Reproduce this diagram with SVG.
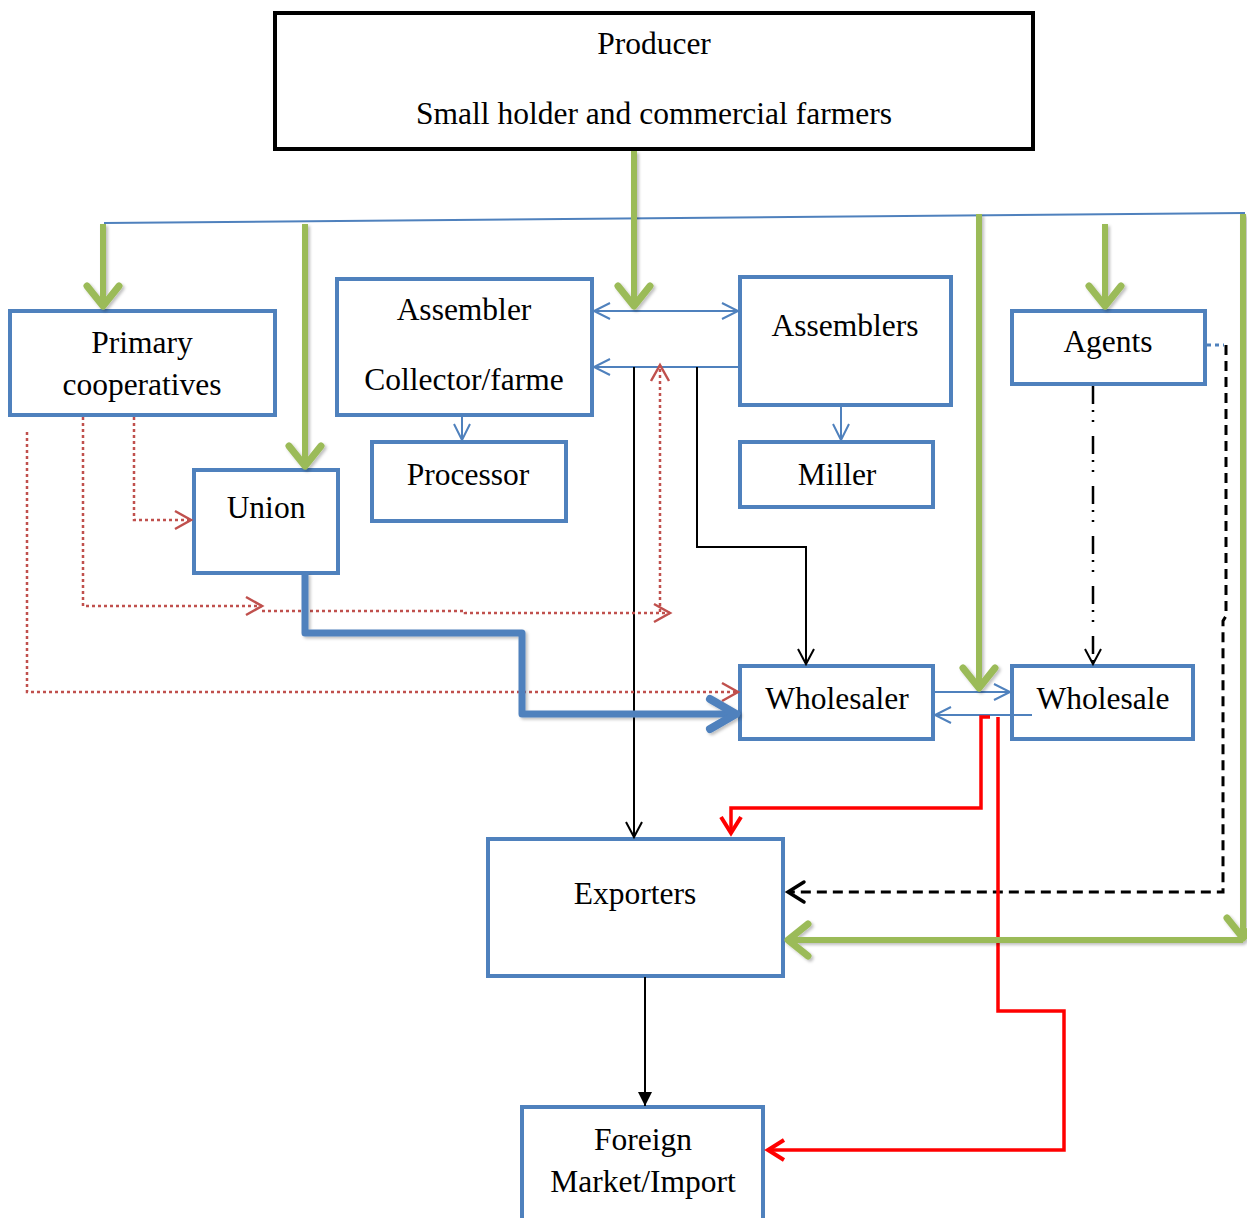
<svg xmlns="http://www.w3.org/2000/svg" width="1247" height="1218" viewBox="0 0 1247 1218">
<style>
.box{fill:#fff;stroke:#4f81bd;stroke-width:4}
.t{font-family:"Liberation Serif","Times New Roman",serif;font-size:31.5px;fill:#000;text-anchor:middle}
.bl{fill:none;stroke:#4f81bd;stroke-width:2}
.gr{fill:none;stroke:#9bbb59;stroke-width:6}
.rd{fill:none;stroke:#c0504d;stroke-width:2.5;stroke-dasharray:3 3}
.k{fill:none;stroke:#000;stroke-width:2}
.red{fill:none;stroke:#ff0000;stroke-width:3.5}
</style>
<defs>
<filter id="sh" x="-20%" y="-20%" width="140%" height="140%"><feDropShadow dx="2" dy="2" stdDeviation="1.5" flood-color="#000" flood-opacity="0.25"/></filter>
<marker id="mb" markerUnits="userSpaceOnUse" markerWidth="1" markerHeight="1" overflow="visible" orient="auto-start-reverse" refX="0" refY="0"><path d="M-16,-8 L0,0 L-16,8" fill="none" stroke="#4f81bd" stroke-width="2"/></marker>
<marker id="mk" markerUnits="userSpaceOnUse" markerWidth="1" markerHeight="1" overflow="visible" orient="auto" refX="0" refY="0"><path d="M-15,-8 L0,0 L-15,8" fill="none" stroke="#000" stroke-width="2"/></marker>
<marker id="mkf" markerUnits="userSpaceOnUse" markerWidth="1" markerHeight="1" overflow="visible" orient="auto" refX="0" refY="0"><path d="M-14,-7 L0,0 L-14,7 Z" fill="#000"/></marker>
<marker id="mkd" markerUnits="userSpaceOnUse" markerWidth="1" markerHeight="1" overflow="visible" orient="auto" refX="0" refY="0"><path d="M-16,-10 L0,0 L-16,10" fill="none" stroke="#000" stroke-width="3.5" stroke-linecap="round"/></marker>
<marker id="mr" markerUnits="userSpaceOnUse" markerWidth="1" markerHeight="1" overflow="visible" orient="auto" refX="0" refY="0"><path d="M-16,-9 L0,0 L-16,9" fill="none" stroke="#c0504d" stroke-width="2.5"/></marker>
<marker id="mrr" markerUnits="userSpaceOnUse" markerWidth="1" markerHeight="1" overflow="visible" orient="auto" refX="0" refY="0"><path d="M-16,-10 L0,0 L-16,10" fill="none" stroke="#ff0000" stroke-width="4"/></marker>
<marker id="mg" markerUnits="userSpaceOnUse" markerWidth="1" markerHeight="1" overflow="visible" orient="auto" refX="0" refY="0"><path d="M-20,-16 L0,0 L-20,16" fill="none" stroke="#9bbb59" stroke-width="7" stroke-linecap="round" stroke-linejoin="round"/></marker>
</defs>

<g id="producer"><rect x="275" y="13" width="758" height="136" fill="#fff" stroke="#000" stroke-width="4"/><text class="t" x="654" y="54">Producer</text><text class="t" x="654" y="124">Small holder and commercial farmers</text></g>
<g id="primary"><rect class="box" x="10" y="311" width="265" height="104"/><text class="t" x="142" y="353">Primary</text><text class="t" x="142" y="395">cooperatives</text></g>
<g id="union"><rect class="box" x="194" y="470" width="144" height="103"/><text class="t" x="266" y="518">Union</text></g>
<g id="assembler"><rect class="box" x="337" y="279" width="255" height="136"/><text class="t" x="464" y="320">Assembler</text><text class="t" x="464" y="390">Collector/farme</text></g>
<g id="processor"><rect class="box" x="372" y="442" width="194" height="79"/><text class="t" x="468" y="485">Processor</text></g>
<g id="assemblers"><rect class="box" x="740" y="277" width="211" height="128"/><text class="t" x="845" y="336">Assemblers</text></g>
<g id="miller"><rect class="box" x="740" y="442" width="193" height="65"/><text class="t" x="837" y="485">Miller</text></g>
<g id="agents"><rect class="box" x="1012" y="311" width="193" height="73"/><text class="t" x="1108" y="352">Agents</text></g>
<g id="wholesaler"><rect class="box" x="740" y="666" width="193" height="73"/><text class="t" x="837" y="709">Wholesaler</text></g>
<g id="wholesale"><rect class="box" x="1012" y="666" width="181" height="73"/><text class="t" x="1103" y="709">Wholesale</text></g>
<g id="exporters"><rect class="box" x="488" y="839" width="295" height="137"/><text class="t" x="635" y="904">Exporters</text></g>
<g id="foreign"><rect class="box" x="522" y="1107" width="241" height="115"/><text class="t" x="643" y="1150">Foreign</text><text class="t" x="643" y="1192">Market/Import</text></g>

<g id="connectors">
<path class="bl" d="M104,223 L1245,213"/>
<path class="bl" d="M594,311 L738,311" marker-start="url(#mb)" marker-end="url(#mb)"/>
<path class="bl" d="M740,367 L594,367" marker-end="url(#mb)"/>
<path class="bl" d="M462,417 L462,440" marker-end="url(#mb)"/>
<path class="bl" d="M841,407 L841,440" marker-end="url(#mb)"/>
<path class="bl" d="M935,692 L1010,692" marker-end="url(#mb)"/>
<path class="bl" d="M1032,715 L935,715" marker-end="url(#mb)"/>
<path d="M1207,345 L1224,345" fill="none" stroke="#4f81bd" stroke-width="3" stroke-dasharray="4 4"/>

<path class="k" d="M634,367 L634,837" marker-end="url(#mk)"/>
<path class="k" d="M697,367 L697,547 L806,547 L806,664" marker-end="url(#mk)"/>
<path class="k" d="M645,977 L645,1106" marker-end="url(#mkf)"/>
<path d="M1093,386 L1093,664" fill="none" stroke="#000" stroke-width="2.5" stroke-dasharray="18 6 2 8 2 14" marker-end="url(#mk)"/>
<path d="M1226,345 L1226,616 L1223,621 L1223,892 L788,892" fill="none" stroke="#000" stroke-width="3" stroke-dasharray="10 6" marker-end="url(#mkd)"/>

<path class="rd" d="M660,612 L660,365" marker-end="url(#mr)"/>
<path class="rd" d="M134,417 L134,520 L191,520" marker-end="url(#mr)"/>
<path class="rd" d="M83,417 L83,606 L262,606" marker-end="url(#mr)"/>
<path class="rd" d="M262,611 L465,611 L465,613 L670,613" marker-end="url(#mr)"/>
<path class="rd" d="M27,432 L27,692 L738,692" marker-end="url(#mr)"/>

<g filter="url(#sh)">
<path d="M305,573 L305,633 L522,633 L522,714 L734,714" fill="none" stroke="#4f81bd" stroke-width="7" stroke-linejoin="round"/>
<path d="M710,699 L736,714 L710,729" fill="none" stroke="#4f81bd" stroke-width="8" stroke-linecap="round" stroke-linejoin="round"/>
</g>

<path class="red" d="M990,717 L981,717 L981,808 L731,808 L731,833" marker-end="url(#mrr)"/>
<path class="red" d="M998,717 L998,1011 L1064,1011 L1064,1150 L768,1150" stroke-width="3" marker-end="url(#mrr)"/>

<g filter="url(#sh)">
<path class="gr" d="M634,151 L634,306" marker-end="url(#mg)"/>
<path class="gr" d="M103,224 L103,306" marker-end="url(#mg)"/>
<path class="gr" d="M305,224 L305,466" marker-end="url(#mg)"/>
<path class="gr" d="M979,214 L979,688" marker-end="url(#mg)"/>
<path class="gr" d="M1105,224 L1105,306" marker-end="url(#mg)"/>
<path class="gr" d="M1243,214 L1243,938" marker-end="url(#mg)"/>
<path class="gr" d="M1243,940 L788,940" marker-end="url(#mg)"/>
</g>
</g>
</svg>
